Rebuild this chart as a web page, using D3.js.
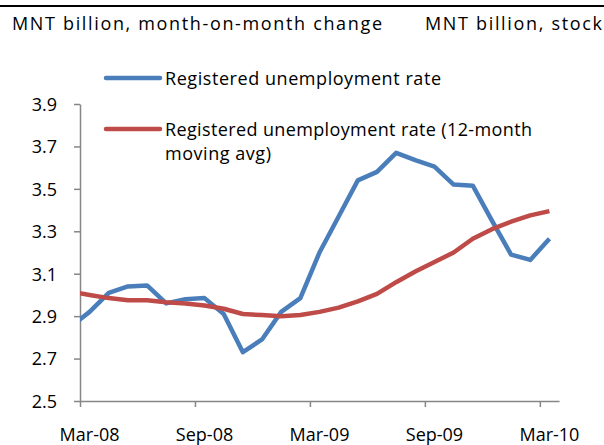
<!DOCTYPE html>
<html>
<head>
<meta charset="utf-8">
<script src="https://cdn.jsdelivr.net/npm/d3@7"></script>
<style>
  body { margin: 0; background: #fff; }
  svg { display: block; font-family: "Open Sans", "Liberation Sans", sans-serif; }
</style>
</head>
<body>
<svg id="chart" width="604" height="445"></svg>
<script>
// months, Feb-08 sits just left of the axis and gets clipped
var months = ["Feb-08","Mar-08","Apr-08","May-08","Jun-08","Jul-08","Aug-08","Sep-08","Oct-08","Nov-08","Dec-08",
  "Jan-09","Feb-09","Mar-09","Apr-09","May-09","Jun-09","Jul-09","Aug-09","Sep-09","Oct-09","Nov-09","Dec-09",
  "Jan-10","Feb-10","Mar-10"];
var rate = [2.85, 2.92, 3.01, 3.04, 3.045, 2.96, 2.98, 2.985, 2.91, 2.73, 2.79,
  2.92, 2.985, 3.20, 3.37, 3.54, 3.58, 3.67, 3.635, 3.605, 3.52, 3.515, 3.35,
  3.19, 3.165, 3.265];
var rateAvg = [3.015, 3.00, 2.985, 2.975, 2.975, 2.965, 2.96, 2.95, 2.935, 2.91, 2.905,
  2.90, 2.905, 2.92, 2.94, 2.97, 3.005, 3.06, 3.11, 3.155, 3.20, 3.265, 3.31,
  3.345, 3.375, 3.395];
var yTicks = [2.5, 2.7, 2.9, 3.1, 3.3, 3.5, 3.7, 3.9];
var xTickLabels = ["Mar-08", "Sep-08", "Mar-09", "Sep-09", "Mar-10"];
var seriesNames = ["Registered unemployment rate", "Registered unemployment rate (12-month", "moving avg)"];

var svg = d3.select("#chart");
var pLeft = 80, pRight = 559, pTop = 104, pBottom = 401;
var fs = 18;

// index 0 = Feb-08; axis starts at the Mar-08 category boundary
var x = d3.scaleLinear().domain([1, 26]).range([pLeft, pRight]);
var y = d3.scaleLinear().domain([2.5, 3.9]).range([pBottom, pTop]);
var xc = function(i) { return x(i + 0.5); };

// top rule + headers
svg.append("line").attr("x1", 0).attr("x2", 604).attr("y1", 6).attr("y2", 6)
  .attr("stroke", "#000").attr("stroke-width", 2);
svg.append("text").attr("x", 12).attr("y", 30).attr("font-size", fs)
  .attr("textLength", 370).attr("fill", "#000").text("MNT billion, month-on-month change");
svg.append("text").attr("x", 425).attr("y", 30).attr("font-size", fs)
  .attr("textLength", 177).attr("fill", "#000").text("MNT billion, stock");

svg.append("defs").append("clipPath").attr("id", "clip")
  .append("rect").attr("x", pLeft).attr("y", 0).attr("width", pRight - pLeft + 10).attr("height", pBottom);

// y axis
var yAxis = svg.append("g").attr("transform", "translate(" + pLeft + ",0)")
  .call(d3.axisLeft(y).tickValues(yTicks).tickFormat(d3.format(".1f")).tickSize(6).tickSizeOuter(0));
yAxis.select(".domain").attr("stroke", "#868686").attr("stroke-width", 1.5);
yAxis.selectAll(".tick line").attr("stroke", "#868686").attr("stroke-width", 1.5);
yAxis.selectAll(".tick text").attr("font-size", fs).attr("fill", "#000")
  .attr("font-family", "Open Sans").attr("x", -23).attr("dy", "0.35em");

// x axis: ticks on category boundaries every 6 months, labels centred in the category
var tickIdx = [1, 7, 13, 19, 25];
var xAxis = svg.append("g").attr("transform", "translate(0," + pBottom + ")")
  .call(d3.axisBottom(x).tickValues(tickIdx).tickFormat("").tickSize(6).tickSizeOuter(0));
xAxis.select(".domain").attr("stroke", "#868686").attr("stroke-width", 1.5);
xAxis.selectAll(".tick line").attr("stroke", "#868686").attr("stroke-width", 1.5);
svg.append("g").selectAll("text").data(xTickLabels).enter().append("text")
  .attr("x", function(d, i) { return xc(tickIdx[i]); })
  .attr("y", 441).attr("text-anchor", "middle").attr("font-size", fs).attr("fill", "#000")
  .text(function(d) { return d; });

// lines
var line = function(vals) {
  return d3.line().x(function(d, i) { return xc(i); }).y(function(d) { return y(d); })(vals);
};
var plot = svg.append("g").attr("clip-path", "url(#clip)");
plot.append("path").attr("d", line(rate)).attr("fill", "none")
  .attr("stroke", "#4a7ebb").attr("stroke-width", 4.5).attr("stroke-linejoin", "round");
plot.append("path").attr("d", line(rateAvg)).attr("fill", "none")
  .attr("stroke", "#be4b48").attr("stroke-width", 4.5).attr("stroke-linejoin", "round");

// legend
var leg = svg.append("g");
leg.append("line").attr("x1", 106).attr("x2", 160).attr("y1", 78).attr("y2", 78)
  .attr("stroke", "#4a7ebb").attr("stroke-width", 4.5).attr("stroke-linecap", "round");
leg.append("text").attr("x", 165).attr("y", 85).attr("font-size", fs)
  .attr("textLength", 276).text(seriesNames[0]);
leg.append("line").attr("x1", 106).attr("x2", 160).attr("y1", 129).attr("y2", 129)
  .attr("stroke", "#be4b48").attr("stroke-width", 4.5).attr("stroke-linecap", "round");
leg.append("text").attr("x", 165).attr("y", 136).attr("font-size", fs)
  .attr("textLength", 367).text(seriesNames[1]);
leg.append("text").attr("x", 165).attr("y", 160).attr("font-size", fs)
  .attr("textLength", 106).text(seriesNames[2]);
</script>
</body>
</html>
